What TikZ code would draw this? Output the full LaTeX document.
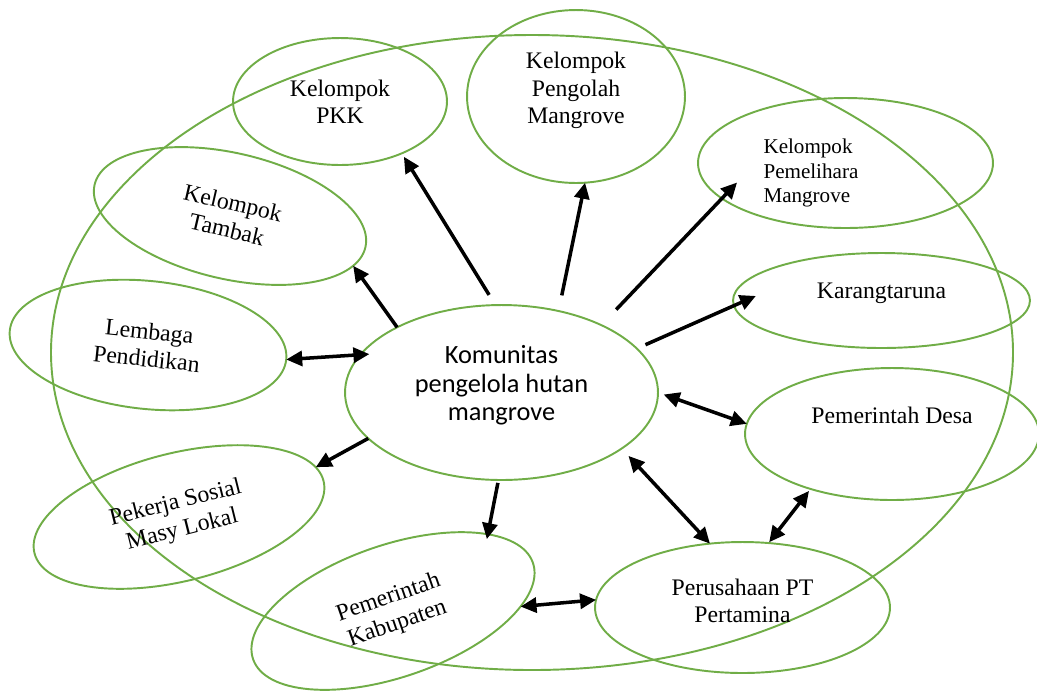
\documentclass[tikz,border=0pt]{standalone}
\usepackage{fontspec}
\setmainfont{Liberation Serif}
\newfontfamily\komfont{Carlito}
\usetikzlibrary{arrows.meta, shapes.geometric}
\definecolor{ringgreen}{HTML}{70AD47}
\tikzset{
  bubble/.style={ellipse, draw=ringgreen, line width=1.1pt, inner sep=0pt, outer sep=0pt,
    align=center, font=\fontsize{13.5}{15.6}\selectfont},
  arr/.style={-{Triangle[length=0.32cm, width=0.3cm]}, line width=2pt},
  darr/.style={{Triangle[length=0.32cm, width=0.3cm]}-{Triangle[length=0.32cm, width=0.3cm]}, line width=2pt},
}

\begin{document}
\begin{tikzpicture}[x=0.02cm, y=-0.02cm]
\useasboundingbox (0,0) rectangle (1037,691);

% 1. 外圈大椭圆
\draw[ringgreen, line width=1.1pt] (532,352.5) ellipse [x radius=481, y radius=317.5];

% 2. 中心的社区
\node[bubble, minimum width=6.26cm, minimum height=3.5cm, text depth=0.38cm,
      font=\komfont\fontsize{15}{16.2}\selectfont] (kom) at (501.5,392.5)
     {Komunitas\\pengelola hutan\\mangrove};

% 3. 周围的各方
\node[bubble, minimum width=4.28cm, minimum height=2.54cm] (pkk) at (340,101.5) {Kelompok\\PKK};
\node[bubble, minimum width=4.36cm, minimum height=3.46cm, text depth=0.34cm] (pengolah) at (576,96.5) {Kelompok\\Pengolah\\Mangrove};
\node[bubble, minimum width=5.9cm, minimum height=2.6cm, align=left, text width=3.28cm, text depth=0.66cm,
      font=\fontsize{12}{13.8}\selectfont] (pemelihara) at (845.5,163) {Kelompok\\Pemelihara\\Mangrove};
\node[bubble, minimum width=5.94cm, minimum height=1.9cm, text depth=0.4cm] (karang) at (881.5,300.5) {Karangtaruna};
\node[bubble, minimum width=5.88cm, minimum height=2.64cm, text depth=0.74cm] (desa) at (892,434) {Pemerintah Desa};
\node[bubble, minimum width=5.9cm, minimum height=2.62cm, text depth=0.26cm] (pertamina) at (742.5,607.5) {Perusahaan PT\\Pertamina};
\node[bubble, minimum width=5.92cm, minimum height=2.64cm, rotate=19] (kabupaten) at (393,611) {Pemerintah\\Kabupaten};
\node[bubble, minimum width=5.96cm, minimum height=2.56cm, rotate=14] (pekerja) at (179,517) {Pekerja Sosial\\Masy Lokal};
\node[bubble, minimum width=5.56cm, minimum height=2.56cm, rotate=-6] (lembaga) at (148,345) {Lembaga\\Pendidikan};
\node[bubble, minimum width=5.56cm, minimum height=2.52cm, rotate=-13] (tambak) at (230,216) {Kelompok\\Tambak};

% 4. 单向箭头
\foreach \p/\q/\gp/\gq in
    {kom.94/pkk.-40/0.24cm/0.08cm, kom.55/pengolah.-84/0.32cm/0cm,
     kom.34/pemelihara.196/0.43cm/-0.44cm, kom.18/karang.182/0.19cm/-0.48cm,
     kom.-92/kabupaten.20/0.06cm/-0.1cm, kom.199/pekerja.6/0cm/0cm,
     kom.148/tambak.-9/0cm/0cm}
    {\draw[arr, shorten <=\gp, shorten >=\gq] (\p) -- (\q);
    }

% 5. 双向箭头
\foreach \p/\q/\gp/\gq in
    {kom.0/desa.176/0.12cm/0cm, kom.-25/pertamina.117/0.2cm/0cm,
     desa.214/pertamina.68/0.05cm/0.02cm, kabupaten.-17/pertamina.177/0cm/0cm,
     lembaga.0/kom.165/0cm/-0.18cm}
    {\draw[darr, shorten <=\gp, shorten >=\gq] (\p) -- (\q);
    }
\end{tikzpicture}
\end{document}
